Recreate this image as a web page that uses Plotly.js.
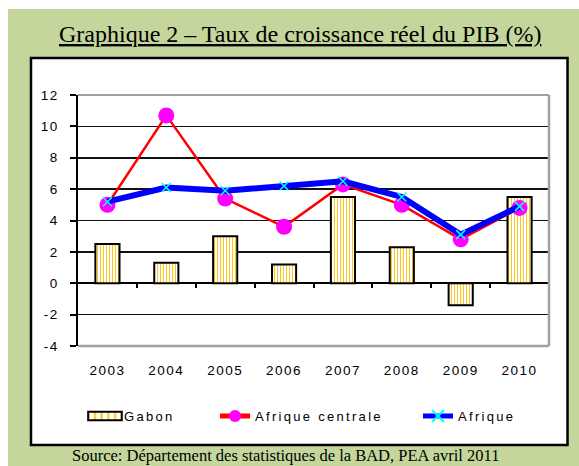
<!DOCTYPE html>
<html>
<head>
<meta charset="utf-8">
<script src="https://cdn.plot.ly/plotly-3.0.1.min.js"></script>
<style>
  html, body { margin: 0; padding: 0; background: #ffffff; }
  #chart { width: 579px; height: 466px; }
  .xtick text, .ytick text { letter-spacing: 1.5px; }
  text.legendtext { letter-spacing: 2.3px; }
  #chart g.scrollbox { clip-path: none !important; }
  g.legend g.legendpoints path {
    transform: translate(21px, 0px) scale(2.8, 0.7) !important;
    vector-effect: non-scaling-stroke;
  }
</style>
</head>
<body>
<div id="chart"></div>
<script>
// ---- Data ----
const years = [2003, 2004, 2005, 2006, 2007, 2008, 2009, 2010];
const yearLabels = ["2003", "2004", "2005", "2006", "2007", "2008", "2009", "2010"];
const seriesNames = ["Gabon", "Afrique centrale", "Afrique"];
const gabon = [2.5, 1.3, 3.0, 1.2, 5.5, 2.3, -1.4, 5.5];
const afriqueCentrale = [5.0, 10.7, 5.4, 3.6, 6.3, 5.0, 2.8, 4.8];
const afrique = [5.2, 6.1, 5.9, 6.2, 6.5, 5.5, 3.1, 4.9];
const yTicks = [-4, -2, 0, 2, 4, 6, 8, 10, 12];
const boundaries = [2003.5, 2004.5, 2005.5, 2006.5, 2007.5, 2008.5, 2009.5, 2010.5];

const titleText = "Graphique 2 – Taux de croissance réel du PIB (%)";
const sourceText = "Source: Département des statistiques de la BAD, PEA avril 2011";

const tickFont = { family: "Liberation Sans, Arial, sans-serif", size: 13.5, color: "#000" };
const legendFont = { family: "Liberation Sans, Arial, sans-serif", size: 13, color: "#000" };

const traces = [
  {
    type: "bar", name: seriesNames[0], x: years, y: gabon, width: 0.41,
    marker: {
      color: "#ffffff",
      line: { color: "#000", width: 2 },
      pattern: { shape: "|", fgcolor: "#ffc000", bgcolor: "#ffffff", size: 3, solidity: 0.3 }
    },
    legend: "legend", hoverinfo: "skip"
  },
  {
    type: "scatter", mode: "lines+markers", name: seriesNames[1], x: years, y: afriqueCentrale,
    line: { color: "#ff0000", width: 2.5 },
    marker: { symbol: "circle", size: 16, color: "#ff00ff" },
    legend: "legend2", hoverinfo: "skip"
  },
  {
    type: "scatter", mode: "lines+markers", name: seriesNames[2], x: years, y: afrique,
    line: { color: "#0000ff", width: 6 },
    marker: { symbol: "x-thin-open", size: 9, color: "#00ffff", line: { color: "#00ffff", width: 1.5 } },
    legend: "legend3", hoverinfo: "skip"
  },
  {
    type: "scatter", mode: "markers", x: years, y: gabon, xaxis: "x2",
    marker: { opacity: 0 }, showlegend: false, hoverinfo: "skip"
  }
];

const legendBase = {
  orientation: "h", yanchor: "middle", xanchor: "left", y: -0.279,
  bgcolor: "rgba(0,0,0,0)", font: legendFont, itemsizing: "constant"
};

const layout = {
  width: 579, height: 466,
  margin: { l: 78, r: 30, t: 95, b: 120 },
  paper_bgcolor: "#ffffff",
  plot_bgcolor: "#ffffff",
  showlegend: true,
  legend: Object.assign({}, legendBase, { x: 0.0127 }),
  legend2: Object.assign({}, legendBase, { x: 0.2909 }),
  legend3: Object.assign({}, legendBase, { x: 0.7219 }),
  xaxis: {
    type: "linear", range: [2002.5, 2010.5],
    tickvals: years, ticktext: yearLabels,
    ticks: "", showgrid: false, zeroline: false, showline: false,
    tickfont: tickFont, ticklabelstandoff: 14, fixedrange: true
  },
  xaxis2: {
    type: "linear", range: [2002.5, 2010.5], overlaying: "x", anchor: "free", position: 0.25, side: "bottom",
    tickvals: boundaries, ticks: "outside", ticklen: 4, tickwidth: 2, tickcolor: "#000",
    showticklabels: false, showgrid: false, zeroline: false, showline: false, fixedrange: true
  },
  yaxis: {
    range: [-4, 12], tickvals: yTicks, ticktext: yTicks.map(String),
    ticks: "outside", ticklen: 6, tickwidth: 2, tickcolor: "#000",
    showline: true, linecolor: "#000", linewidth: 2.5,
    showgrid: true, gridcolor: "#111", gridwidth: 1.6,
    zeroline: true, zerolinecolor: "#000", zerolinewidth: 2,
    tickfont: tickFont, ticklabelstandoff: 8, fixedrange: true
  },
  shapes: [
    { type: "rect", xref: "paper", yref: "paper", x0: -0.1486, x1: 1.0637, y0: -0.478, y1: 1.3427,
      fillcolor: "#c4d69c", line: { width: 0 }, layer: "below" },
    { type: "rect", xref: "paper", yref: "paper", x0: -0.0998, x1: 1.0393, y0: -0.3944, y1: 1.1474,
      fillcolor: "#ffffff", line: { color: "#000", width: 2.5 }, layer: "below" },
    { type: "line", xref: "paper", yref: "paper", x0: 0, x1: 1, y0: 1, y1: 1,
      line: { color: "#a0a0a0", width: 2 }, layer: "above" },
    { type: "line", xref: "paper", yref: "paper", x0: 1, x1: 1, y0: 0, y1: 1,
      line: { color: "#a0a0a0", width: 2.5 }, layer: "above" },
    { type: "line", xref: "paper", yref: "paper", x0: 0, x1: 1, y0: 0, y1: 0,
      line: { color: "#a0a0a0", width: 2.5 }, layer: "above" }
  ],
  annotations: [
    { text: "<u>" + titleText + "</u>", xref: "paper", yref: "paper", x: 0.4713, y: 1.243,
      xanchor: "center", yanchor: "middle", showarrow: false,
      font: { family: "Liberation Serif, Times New Roman, serif", size: 24, color: "#000" } },
    { text: sourceText, xref: "paper", yref: "paper", x: 0.4395, y: -0.438,
      xanchor: "center", yanchor: "middle", showarrow: false,
      font: { family: "Liberation Serif, Times New Roman, serif", size: 16.5, color: "#000" } }
  ]
};

function spaceLegendText() {
  document.querySelectorAll("#chart text").forEach(function (t) {
    if (seriesNames.indexOf(t.textContent.trim()) >= 0) {
      t.style.setProperty("letter-spacing", "2.3px", "important");
    }
  });
  document.querySelectorAll("#chart g.scrollbox").forEach(function (g) {
    g.removeAttribute("clip-path");
    g.style.setProperty("clip-path", "none", "important");
  });
}

Plotly.newPlot("chart", traces, layout, { displayModeBar: false, staticPlot: true }).then(function () {
  spaceLegendText();
  setTimeout(spaceLegendText, 50);
});
</script>
</body>
</html>
